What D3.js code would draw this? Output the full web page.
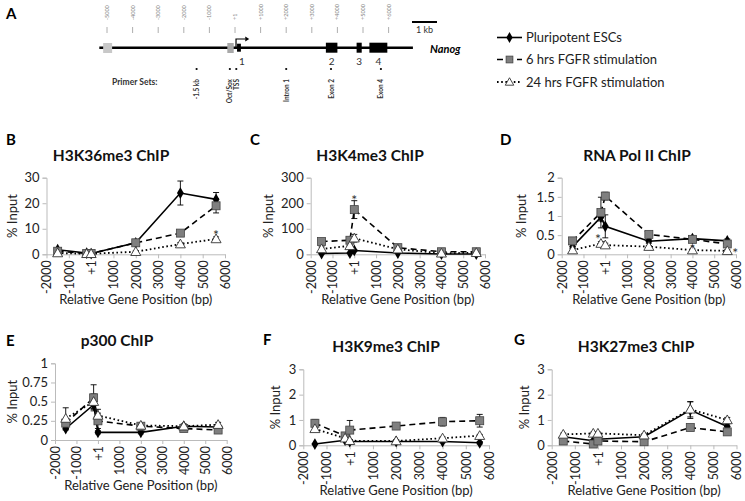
<!DOCTYPE html>
<html><head><meta charset="utf-8">
<script src="https://cdn.jsdelivr.net/npm/d3@7/dist/d3.min.js"></script>
<style>
body{margin:0;background:#fff;}
svg{display:block;font-family:Lato,"Open Sans",sans-serif;}
</style></head>
<body><svg id="c" width="745" height="501"></svg>
<script>
// ---------------- DATA ----------------
const positions = [-1500, -200, 1, 2000, 4000, 5600];
const xTicks = [-2000,-1000,0,1000,2000,3000,4000,5000,6000];
const xTickLabels = ["-2000","-1000","+1","1000","2000","3000","4000","5000","6000"];
const seriesNames = ["Pluripotent ESCs","6 hrs FGFR stimulation","24 hrs FGFR stimulation"];

// H3K36me3
const k36_esc = [1.8, 0.5, 0.3, 4.5, 24.0, 21.5];
const k36_6h  = [1.2, 0.3, 0.3, 4.5, 8.3, 19.0];
const k36_24h = [0.5, 0.2, 0.2, 1.0, 4.0, 6.0];
const k36_esc_err = [0.5,0.2,0.2,0.5,4.7,2.7];
const k36_6h_err  = [0.5,0.2,0.2,0.8,0.8,2.8];
const k36_24h_err = [0.3,0.1,0.1,0.3,0.6,0.8];
// H3K4me3
const k4_esc = [3, 5, 15, 5, 1, 1];
const k4_6h  = [50, 55, 175, 26, 10, 10];
const k4_24h = [21, 33, 63, 20, 4, 6];
const k4_esc_err = [2,2,3,1,1,1];
const k4_6h_err  = [10,10,35,5,3,3];
const k4_24h_err = [8,10,15,5,2,2];
// RNA Pol II
const pol_esc = [0.2, 0.97, 0.73, 0.34, 0.41, 0.35];
const pol_6h  = [0.35, 1.09, 1.52, 0.52, 0.39, 0.27];
const pol_24h = [0.11, 0.28, 0.24, 0.2, 0.11, 0.09];
const pol_esc_err = [0.05,0.1,0.3,0.05,0.05,0.05];
const pol_6h_err  = [0.05,0.4,0.1,0.05,0.05,0.05];
const pol_24h_err = [0.03,0.05,0.05,0.03,0.03,0.03];
// p300
const p300_esc = [0.15, 0.46, 0.1, 0.1, 0.18, 0.17];
const p300_6h  = [0.22, 0.55, 0.25, 0.18, 0.15, 0.13];
const p300_24h = [0.28, 0.5, 0.32, 0.19, 0.18, 0.2];
const p300_esc_err = [0.02,0.05,0.02,0.02,0.02,0.02];
const p300_6h_err  = [0.05,0.17,0.1,0.03,0.03,0.03];
const p300_24h_err = [0.14,0.1,0.08,0.03,0.03,0.03];
// H3K9me3
const k9_esc = [0.05, 0.2, 0.15, 0.15, 0.15, 0.1];
const k9_6h  = [0.87, 0.37, 0.6, 0.76, 0.93, 0.97];
const k9_24h = [0.65, 0.28, 0.18, 0.17, 0.28, 0.38];
const k9_esc_err = [0.02,0.05,0.05,0.05,0.05,0.05];
const k9_6h_err  = [0.15,0.1,0.38,0.1,0.17,0.25];
const k9_24h_err = [0.1,0.05,0.05,0.05,0.05,0.05];
// H3K27me3
const k27_esc = [0.34, 0.18, 0.24, 0.34, 1.39, 0.74];
const k27_6h  = [0.17, 0.05, 0.17, 0.14, 0.7, 0.53];
const k27_24h = [0.43, 0.47, 0.47, 0.4, 1.42, 1.0];
const k27_esc_err = [0.05,0.05,0.05,0.05,0.33,0.1];
const k27_6h_err  = [0.03,0.03,0.03,0.03,0.1,0.1];
const k27_24h_err = [0.05,0.05,0.05,0.05,0.3,0.1];

// Gene map (panel A)
const mapTicks = [-5000,-4000,-3000,-2000,-1000,1,1000,2000,3000,4000,5000,6000];
const mapTickLabels = ["-5000","-4000","-3000","-2000","-1000","+1","+1000","+2000","+3000","+4000","+5000","+6000"];
const primerPos = [-1500, -200, 50, 2000, 3750, 5700];
const primerLabels = ["-1.5 kb","Oct/Sox","TSS","Intron 1","Exon 2","Exon 4"];
const exonStarts = [80, 3550, 4750, 5250];
const exonEnds   = [230, 4000, 4950, 5950];
const exonLabels = ["1","2","3","4"];
const enhStarts = [-5150, -300];
const enhEnds   = [-4800, -50];

// ---------------- DRAW ----------------
const svg = d3.select("#c");
const FONT = "Lato, 'Open Sans', sans-serif";

// Panel A
const gx = d3.scaleLinear().domain([0, 1000]).range([235, 260.6]);
const A = svg.append("g");
A.append("text").attr("x",6).attr("y",19).attr("font-size",15).attr("font-weight",700).text("A");
mapTicks.forEach((t,i)=>{
  const x = gx(t);
  A.append("line").attr("x1",x).attr("x2",x).attr("y1",27).attr("y2",33).attr("stroke","#999").attr("stroke-width",0.8);
  A.append("text").attr("transform",`translate(${x+2},20) rotate(-90)`).attr("font-size",5.5).attr("fill","#888").text(mapTickLabels[i]);
});
A.append("line").attr("x1",412).attr("x2",437).attr("y1",22).attr("y2",22).attr("stroke","#000").attr("stroke-width",2);
A.append("text").attr("x",424.5).attr("y",33).attr("text-anchor","middle").attr("font-size",9).attr("fill","#333").text("1 kb");
A.append("line").attr("x1",gx(-5300)).attr("x2",gx(6950)).attr("y1",47.7).attr("y2",47.7).attr("stroke","#000").attr("stroke-width",2.5);
[0,1].forEach(i=>{
  A.append("rect").attr("x",gx(enhStarts[i])).attr("width",gx(enhEnds[i])-gx(enhStarts[i])).attr("y",43).attr("height",10)
   .attr("fill", i===0?"#c8c8c8":"#a8a8a8");
});
exonStarts.forEach((s,i)=>{
  const h = i===0?8:10;
  A.append("rect").attr("x",gx(s)).attr("width",gx(exonEnds[i])-gx(s)).attr("y",47.7-h/2).attr("height",h).attr("fill","#000");
  A.append("text").attr("x",(gx(s)+gx(exonEnds[i]))/2+(i===0?3:0)).attr("y",65).attr("text-anchor","middle").attr("font-size",10).attr("fill","#333").text(exonLabels[i]);
});
// TSS arrow
A.append("path").attr("d",`M${gx(40)},47 V39 H${gx(400)}`).attr("fill","none").attr("stroke","#000").attr("stroke-width",1.2);
A.append("path").attr("d",`M${gx(400)+4},39 l-4,-2.5 v5 z`).attr("fill","#000");
A.append("text").attr("x",430).attr("y",53).attr("font-size",11).attr("font-weight",700).attr("font-style","italic").text("Nanog");
A.append("text").attr("x",112).attr("y",85).attr("font-size",8.5).attr("font-weight",700).attr("fill","#333").text("Primer Sets:");
primerPos.forEach((p,i)=>{
  const x = gx(p);
  A.append("circle").attr("cx",x).attr("cy",69).attr("r",1.1).attr("fill","#000");
  A.append("text").attr("transform",`translate(${x+2.5},79) rotate(-90)`).attr("text-anchor","end")
    .attr("font-size",6.5).attr("font-weight",700).attr("fill","#333").text(primerLabels[i]);
});

// Legend
const legY = [37.5, 59.5, 82];
const styles = [
  {dash:null, w:1.6, marker:"diamond"},
  {dash:"6,4", w:1.6, marker:"square"},
  {dash:"1.6,2.6", w:1.8, marker:"triangle"}
];
function marker(g, type, x, y, s=1){
  if(type==="diamond"){
    g.append("path").attr("d",d3.symbol(d3.symbolDiamond, 40*s)()).attr("transform",`translate(${x},${y})`).attr("fill","#000");
  } else if(type==="square"){
    g.append("rect").attr("x",x-4*s).attr("y",y-4*s).attr("width",8*s).attr("height",8*s).attr("fill","#7f7f7f").attr("stroke","#444").attr("stroke-width",0.8);
  } else {
    const r=5*s;
    g.append("path").attr("d",`M${x},${y-r} L${x+r},${y+r*0.75} L${x-r},${y+r*0.75} Z`).attr("fill","#fff").attr("stroke","#333").attr("stroke-width",0.9);
  }
}
seriesNames.forEach((n,i)=>{
  const y = legY[i];
  const l = svg.append("line").attr("x1",497).attr("x2",522).attr("y1",y).attr("y2",y).attr("stroke","#000").attr("stroke-width",styles[i].w);
  if(styles[i].dash) l.attr("stroke-dasharray",styles[i].dash);
  marker(svg, styles[i].marker, 509.5, y, 0.85);
  svg.append("text").attr("x",526).attr("y",y+4.5).attr("font-size",13).attr("fill","#222").text(n);
});

// Chart panels
const panels = [
  {lab:"B", title:"H3K36me3 ChIP", tx:111, x0:46.5, x1:225, yT:177.7, yB:254.3, ymax:30, yt:[0,10,20,30], ytl:["0","10","20","30"],
   s:[k36_esc,k36_6h,k36_24h], e:[k36_esc_err,k36_6h_err,k36_24h_err], labX:6, labY:145, ytitleX:12,
   stars:[{x:5600,y:7.8,dx:0}]},
  {lab:"C", title:"H3K4me3 ChIP", tx:370, x0:310.7, x1:485, yT:177.7, yB:254.3, ymax:300, yt:[0,100,200,300], ytl:["0","100","200","300"],
   s:[k4_esc,k4_6h,k4_24h], e:[k4_esc_err,k4_6h_err,k4_24h_err], labX:250, labY:145, ytitleX:268,
   stars:[{x:1,y:215,dx:0}]},
  {lab:"D", title:"RNA Pol II ChIP", tx:637, x0:561.7, x1:736, yT:177.7, yB:254.3, ymax:2, yt:[0,0.5,1,1.5,2], ytl:["0","0.5","1","1.5","2"],
   s:[pol_esc,pol_6h,pol_24h], e:[pol_esc_err,pol_6h_err,pol_24h_err], labX:500, labY:145, ytitleX:521,
   stars:[{x:-200,y:0.42,dx:-3},{x:4000,y:0.17,dx:0},{x:5600,y:0.05,dx:8}]},
  {lab:"E", title:"p300 ChIP", tx:117, x0:55, x1:226.7, yT:363.3, yB:440, ymax:1, yt:[0,0.25,0.5,0.75,1], ytl:["0","0.25","0.5","0.75","1"],
   s:[p300_esc,p300_6h,p300_24h], e:[p300_esc_err,p300_6h_err,p300_24h_err], labX:6, labY:346, ytitleX:12, stars:[]},
  {lab:"F", title:"H3K9me3 ChIP", tx:386, x0:303.3, x1:489, yT:369.3, yB:445.3, ymax:3, yt:[0,1,2,3], ytl:["0","1","2","3"],
   s:[k9_esc,k9_6h,k9_24h], e:[k9_esc_err,k9_6h_err,k9_24h_err], labX:263, labY:345, ytitleX:275, stars:[]},
  {lab:"G", title:"H3K27me3 ChIP", tx:636, x0:551.7, x1:736.5, yT:369.3, yB:445.3, ymax:3, yt:[0,1,2,3], ytl:["0","1","2","3"],
   s:[k27_esc,k27_6h,k27_24h], e:[k27_esc_err,k27_6h_err,k27_24h_err], labX:514, labY:345, ytitleX:524, stars:[]}
];

panels.forEach(P=>{
  const g = svg.append("g");
  const x = d3.scaleLinear().domain([-2000,6000]).range([P.x0,P.x1]);
  const y = d3.scaleLinear().domain([0,P.ymax]).range([P.yB,P.yT]);
  g.append("text").attr("x",P.labX).attr("y",P.labY).attr("font-size",15).attr("font-weight",700).text(P.lab);
  g.append("text").attr("x",P.tx).attr("y",P.yT-17).attr("text-anchor","middle").attr("font-size",15.5).attr("font-weight",700).attr("fill","#111").text(P.title);
  // y axis
  const ya = g.append("g").attr("transform",`translate(${P.x0},0)`)
    .call(d3.axisLeft(y).tickValues(P.yt).tickFormat((d,i)=>P.ytl[i]).tickSize(4).tickPadding(3));
  ya.select(".domain").attr("stroke","#bbb");
  ya.selectAll(".tick line").attr("stroke","#bbb");
  ya.selectAll("text").attr("font-size",13).attr("font-family",FONT).attr("fill","#222");
  // x axis
  const xa = g.append("g").attr("transform",`translate(0,${P.yB})`)
    .call(d3.axisBottom(x).tickValues(xTicks).tickFormat((d,i)=>xTickLabels[i]).tickSize(4).tickSizeOuter(0));
  xa.select(".domain").attr("stroke","#bbb");
  xa.selectAll(".tick line").attr("stroke","#bbb");
  xa.selectAll("text").attr("font-size",12.5).attr("font-family",FONT).attr("fill","#222")
    .attr("transform","rotate(-90)").attr("text-anchor","end").attr("x",-6).attr("y",0).attr("dy","0.35em");
  g.append("text").attr("x",(P.x0+P.x1)/2).attr("y",P.yB+50).attr("text-anchor","middle").attr("font-size",13).attr("fill","#222").text("Relative Gene Position (bp)");
  g.append("text").attr("transform",`translate(${P.ytitleX},${(P.yT+P.yB)/2}) rotate(-90)`).attr("text-anchor","middle").attr("font-size",13).attr("fill","#222").attr("dy","0.35em").text("% Input");
  // series
  P.s.forEach((vals,si)=>{
    const line = d3.line().x((d,i)=>x(positions[i])).y(d=>y(d));
    const p = g.append("path").attr("d",line(vals)).attr("fill","none").attr("stroke","#000").attr("stroke-width",styles[si].w);
    if(styles[si].dash) p.attr("stroke-dasharray",styles[si].dash);
    vals.forEach((v,i)=>{
      const err = P.e[si][i];
      const cx = x(positions[i]);
      g.append("line").attr("x1",cx).attr("x2",cx).attr("y1",y(v-err)).attr("y2",y(v+err)).attr("stroke","#000").attr("stroke-width",0.9);
      [v-err,v+err].forEach(ev=>g.append("line").attr("x1",cx-3).attr("x2",cx+3).attr("y1",y(ev)).attr("y2",y(ev)).attr("stroke","#000").attr("stroke-width",0.9));
    });
  });
  P.s.forEach((vals,si)=>{
    vals.forEach((v,i)=>marker(g, styles[si].marker, x(positions[i]), y(v), 1));
  });
  P.stars.forEach(st=>{
    g.append("text").attr("x",x(st.x)+st.dx).attr("y",y(st.y)+6).attr("text-anchor","middle").attr("font-size",14).attr("fill","#333").text("*");
  });
});
</script></body></html>
